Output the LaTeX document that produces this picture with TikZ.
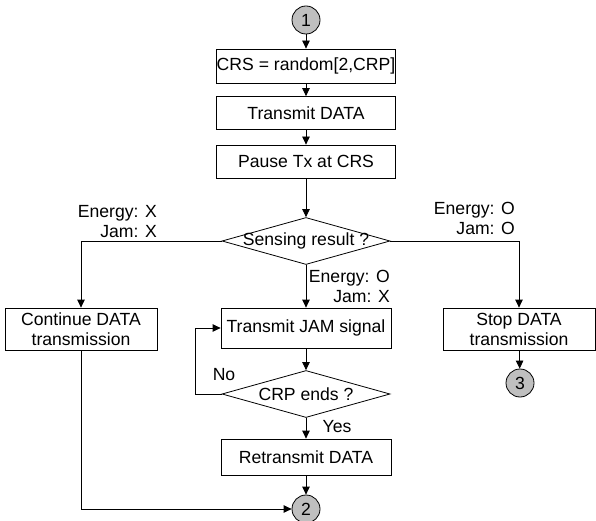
\documentclass[tikz,border=0pt]{standalone}
\usepackage{fontspec}
\setmainfont{Liberation Sans}
\usetikzlibrary{arrows.meta,shapes.geometric}
\tikzset{
	box/.style={draw, line width=0.8pt, inner sep=0pt, align=center},
	decision/.style={draw, line width=0.8pt, diamond, inner sep=0pt, minimum width=168pt, minimum height=47pt},
	connector/.style={draw, line width=0.8pt, circle, fill=black!25, minimum size=28pt, inner sep=0pt},
	flow/.style={line width=0.8pt, -{Triangle[length=8pt,width=7.5pt]}},
	cond/.style={align=right, anchor=east, inner sep=0pt}
}

\begin{document}
\begin{tikzpicture}[x=1pt, y=-1pt, font=\fontsize{17.6}{20}\selectfont]
			%%%%% START %%%%%
			\useasboundingbox (0, 0) rectangle (596, 521);
			
			\node[connector] (c1) at (306, 20) {1};
			\node[box, minimum width=179pt, minimum height=34pt] (crs) at (306, 66) {CRS = random[2,CRP]};
			\node[box, minimum width=179pt, minimum height=33pt] (tx) at (306, 113) {Transmit DATA};
			\node[box, minimum width=179pt, minimum height=33pt] (pause) at (306, 161.5) {Pause Tx at CRS};
			\node[decision, label=center:{Sensing result ?}] (sense) at (306, 241) {};
			
			\node[box, minimum width=152pt, minimum height=42pt] (cont) at (81, 329) {Continue DATA\\transmission};
			\node[box, minimum width=152pt, minimum height=42pt] (stop) at (519, 329) {Stop DATA\\transmission};
			\node[connector] (c3) at (520, 383) {3};
			
			\node[box, minimum width=170pt, minimum height=40pt] (jam) at (306, 328) {Transmit JAM signal};
			\node[decision, label=center:{CRP ends ?}] (crp) at (306, 394) {};
			\node[box, minimum width=170pt, minimum height=36pt] (retx) at (306, 457) {Retransmit DATA};
			\node[connector] (c2) at (306, 509) {2};
			
			\node[cond] (lxx) at (157, 222) {Energy: X\\Jam: X};
			\node[cond] (loo) at (515, 218) {Energy: O\\Jam: O};
			\node[cond] (lox) at (390, 286) {Energy: O\\Jam: X};
			\node (lno) at (224, 375) {No};
			\node (lyes) at (337, 427) {Yes};
			\coordinate (back) at (195, 394);
			
			\draw[flow] (c1) -- (crs);
			\draw[flow] (crs) -- (tx);
			\draw[flow] (tx) -- (pause);
			\draw[flow] (pause) -- (sense);
			\draw[flow] (sense.west) -| (cont);
			\draw[flow] (sense.east) -| (stop);
			\draw[flow] (sense) -- (jam);
			\draw[flow] (stop) -- (c3);
			\draw[flow] (jam) -- (crp);
			\draw[flow] (crp.west) -- (back) |- (jam.west);
			\draw[flow] (crp) -- (retx);
			\draw[flow] (retx) -- (c2);
			\draw[flow] (cont.south -| cont) |- (c2);
			
			%%%%% END %%%%%
\end{tikzpicture}
\end{document}
